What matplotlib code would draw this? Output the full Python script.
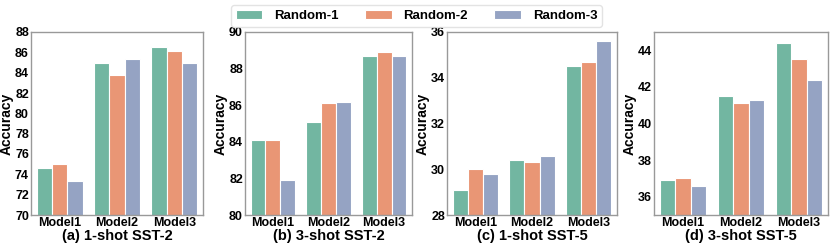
import matplotlib
matplotlib.use("Agg")
import matplotlib.pyplot as plt
import numpy as np
import seaborn as sns

models = ["Model1", "Model2", "Model3"]
series = ["Random-1", "Random-2", "Random-3"]

a_vals = [[74.6, 85.0, 86.5], [75.0, 83.8, 86.1], [73.3, 85.3, 85.0]]
b_vals = [[84.1, 85.1, 88.7], [84.1, 86.1, 88.9], [81.9, 86.2, 88.7]]
c_vals = [[29.1, 30.4, 34.5], [30.0, 30.3, 34.7], [29.8, 30.6, 35.6]]
d_vals = [[36.9, 41.5, 44.4], [37.0, 41.1, 43.5], [36.6, 41.3, 42.4]]

titles = ["(a) 1-shot SST-2", "(b) 3-shot SST-2", "(c) 1-shot SST-5", "(d) 3-shot SST-5"]
ylims = [(70, 88), (80, 90), (28, 36), (35, 45)]
yticks = [np.arange(70, 89, 2), np.arange(80, 91, 2), np.arange(28, 37, 2), np.arange(36, 45, 2)]

plt.rcParams['font.family'] = ['Liberation Sans', 'DejaVu Sans']
plt.rcParams['font.weight'] = 'bold'

base = sns.color_palette("Set2", 3)
colors = [sns.desaturate(c, 0.75) for c in base]

fig = plt.figure(figsize=(8.3, 2.44), dpi=100)
W, H = 830, 244
boxes = [(31, 203), (245, 412), (447, 617), (654, 828)]
top, bottom = 32, 215
data = [a_vals, b_vals, c_vals, d_vals]
x = np.arange(len(models))
bw = 0.8 / 3
handles = []
for i, (l, r) in enumerate(boxes):
    ax = fig.add_axes([l / W, 1 - bottom / H, (r - l) / W, (bottom - top) / H])
    for j, s in enumerate(series):
        h = ax.bar(x + (j - 1) * bw, data[i][j], width=bw, color=colors[j],
                   edgecolor='white', linewidth=0.8, label=s)
        if i == 0:
            handles.append(h)
    ax.set_ylim(*ylims[i])
    ax.set_xlim(-0.5, 2.5)
    ax.set_yticks(yticks[i])
    ax.set_xticks(x)
    ax.set_xticklabels(models, fontsize=9, fontweight='bold')
    for t in ax.get_yticklabels():
        t.set_fontsize(9)
        t.set_fontweight('bold')
    ax.tick_params(axis='both', length=0, pad=1.5)
    ax.set_xlabel(titles[i], fontsize=10.5, fontweight='bold', labelpad=0)
    ax.set_ylabel("Accuracy", fontsize=10, fontweight='bold', labelpad=1)
    for sp in ax.spines.values():
        sp.set_color('#999999')
        sp.set_linewidth(1.0)

fig.legend(handles, series, loc='upper center', bbox_to_anchor=(0.502, 1.005), ncol=3,
           prop={'weight': 'bold', 'size': 9.5}, frameon=True, edgecolor='#dddddd',
           handlelength=2.0, handletextpad=0.9, columnspacing=2.0, borderpad=0.35,
           handleheight=0.7)
fig.savefig("out.png", dpi=100)
